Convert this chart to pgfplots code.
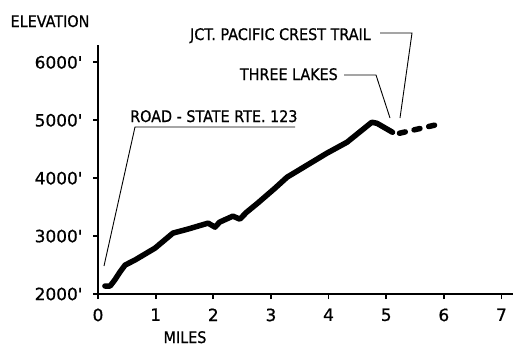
\documentclass[border=0pt]{standalone}
\usepackage{pgfplots}
\pgfplotsset{compat=1.18}
\usepackage{graphicx}
\usepackage{fontspec}
\setmainfont{DejaVu Sans}[FakeBold=0.8]
\newcommand\hl[1]{\scalebox{0.9}[1]{#1}}
\begin{document}
\begin{tikzpicture}
\begin{axis}[
  scale only axis, width=415bp, height=249bp,
  xmin=0, xmax=7.2, ymin=2000, ymax=6300,
  axis x line=bottom, axis y line=left,
  axis line style={-, line width=2.5bp},
  xtick={0,1,2,3,4,5,6,7},
  xticklabels={0,1,2,3,4,5,6,7},
  ytick={2000,3000,4000,5000,6000},
  yticklabels={2000\textquotesingle,3000\textquotesingle,4000\textquotesingle,5000\textquotesingle,6000\textquotesingle},
  tick align=outside, major tick length=5bp,
  tick style={line width=1.8bp, black},
  ticklabel style={font=\fontsize{17}{17}\selectfont},
  yticklabel style={xshift=-7bp},
  xticklabel style={yshift=-6bp},
  clip=false,
]
\addplot[line width=5.5bp, line cap=round, line join=round] coordinates {
(0.12,2138) (0.21,2138) (0.29,2241) (0.38,2379) (0.47,2500) (0.64,2586)
(0.99,2793) (1.30,3052) (1.56,3121) (1.91,3224) (2.03,3155) (2.11,3241)
(2.34,3345) (2.46,3293) (2.58,3414) (2.77,3569) (3.07,3827) (3.28,4017)
(3.97,4431) (4.32,4621) (4.75,4966) (4.84,4948) (5.11,4793)
};
\addplot[line width=5.5bp, line cap=round, dash pattern=on 6bp off 9bp] coordinates {
(5.23,4776) (5.98,4948)
};
\end{axis}
\begin{scope}[shift={(-98bp,294bp)}, x=1bp, y=-1bp, font=\fontsize{16}{16}\selectfont]
  \node[inner sep=0, anchor=base] at (50,27) {\hl{ELEVATION}};
  \node[inner sep=0, anchor=base] at (185,343) {\hl{MILES}};
  \node[inner sep=0, anchor=base west] at (130,122) {\hl{ROAD - STATE RTE. 123}};
  \draw[line width=0.9bp] (104,266) -- (135,127) -- (295,127);
  \node[inner sep=0, anchor=base east] at (338,80) {\hl{THREE LAKES}};
  \draw[line width=0.9bp] (344,75) -- (376,75) -- (390,118);
  \node[inner sep=0, anchor=base east] at (371,40) {\hl{JCT. PACIFIC CREST TRAIL}};
  \draw[line width=0.9bp] (380,33) -- (412,33) -- (400,118);
  \pgfresetboundingbox
  \path[use as bounding box] (0,0) rectangle (513,347);
\end{scope}
\end{tikzpicture}
\end{document}
